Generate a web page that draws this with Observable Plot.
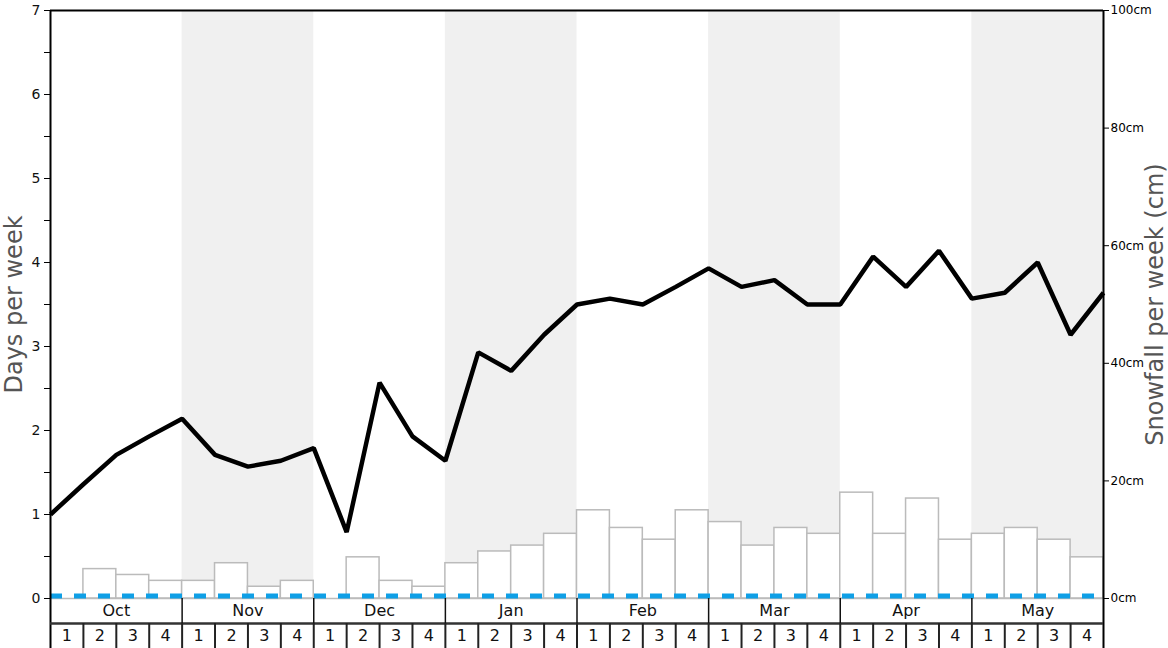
<!DOCTYPE html>
<html>
<head>
<meta charset="utf-8">
<script src="https://cdn.jsdelivr.net/npm/d3@7"></script>
<script src="https://cdn.jsdelivr.net/npm/@observablehq/plot@0.6"></script>
<style>
  html, body { margin: 0; padding: 0; background: #fff; }
  #chart { width: 1168px; height: 648px; }
</style>
</head>
<body>
<div id="chart"></div>
<script>
// ---- Data ----
const months = ["Oct", "Nov", "Dec", "Jan", "Feb", "Mar", "Apr", "May"];
const weekLabels = ["1", "2", "3", "4"];
// Days per week (line), sampled at week boundaries (33 points)
const daysPerWeek = [1.0, 1.36, 1.71, 1.93, 2.14, 1.71, 1.57, 1.64, 1.79, 0.79, 2.57,
  1.93, 1.64, 2.93, 2.71, 3.14, 3.5, 3.57, 3.5, 3.71, 3.93, 3.71, 3.79, 3.5, 3.5,
  4.07, 3.71, 4.14, 3.57, 3.64, 4.0, 3.14, 3.64];
// Snowfall per week in cm (bars), one per week (32)
const snowfallCm = [0, 5, 4, 3, 3, 6, 2, 3, 0, 7, 3, 2, 6, 8, 9, 11,
  15, 12, 10, 15, 13, 9, 12, 11, 18, 11, 17, 10, 11, 12, 10, 7];
const cmTicks = [0, 20, 40, 60, 80, 100];
const dayTicks = [0, 1, 2, 3, 4, 5, 6, 7];
const halfDayTicks = [0.5, 1.5, 2.5, 3.5, 4.5, 5.5, 6.5];

// ---- Derived tables ----
const CM_TO_DAYS = 7 / 100; // right axis 0..100cm maps onto left axis 0..7
const ROW1 = -25 / 84, ROW2 = -50 / 84; // table rows below the plot (in day units)
const weeks = snowfallCm.map((cm, i) => ({i, cm, month: Math.floor(i / 4), label: weekLabels[i % 4]}));
const linePts = daysPerWeek.map((v, i) => ({i, v}));
const monthRows = months.map((m, k) => ({k, m}));
const shaded = monthRows.filter(d => d.k % 2 === 1);
const weekBounds = d3.range(1, weeks.length);
const monthBounds = d3.range(1, months.length).map(k => k * 4);

const chart = Plot.plot({
  width: 1168,
  height: 648,
  marginLeft: 50,
  marginRight: 65,
  marginTop: 10,
  marginBottom: 0,
  style: {fontFamily: "DejaVu Sans, sans-serif", background: "#fff", color: "#000", overflow: "visible"},
  x: {domain: [0, weeks.length], axis: null},
  y: {domain: [ROW2, 7], axis: null},
  marks: [
    // alternating month background bands
    Plot.rect(shaded, {x1: d => d.k * 4, x2: d => d.k * 4 + 4, y1: 0, y2: 7, fill: "#f0f0f0"}),
    // snowfall bars
    Plot.rect(weeks, {x1: d => d.i, x2: d => d.i + 1, y1: 0, y2: d => d.cm * CM_TO_DAYS,
      fill: "#fff", stroke: "#bbb", strokeWidth: 1.5}),
    Plot.ruleY([0], {stroke: "#bbb", strokeWidth: 1.5}),
    // blue dashed baseline
    Plot.ruleY([0], {stroke: "#0f9fe6", strokeWidth: 5, strokeDasharray: "12,12", dy: -2.5}),
    // days-per-week line
    Plot.line(linePts, {x: "i", y: "v", stroke: "#000", strokeWidth: 4.5,
      strokeLinejoin: "miter", strokeLinecap: "butt"}),
    // frame
    Plot.ruleY([7], {stroke: "#000", strokeWidth: 2}),
    Plot.ruleX([0, weeks.length], {stroke: "#000", strokeWidth: 2}),
    // left axis
    Plot.axisY({anchor: "left", ticks: dayTicks, tickSize: 6, tickPadding: 4, fontSize: 14,
      tickFormat: d => d, label: null, stroke: "#000", color: "#111"}),
    Plot.axisY({anchor: "left", ticks: halfDayTicks, tickSize: 6, tickFormat: () => "", label: null}),
    // right axis (cm)
    Plot.axisY({anchor: "right", ticks: cmTicks.map(c => c * CM_TO_DAYS), tickSize: 5, tickPadding: 2,
      fontSize: 12, tickFormat: d => Math.round(d / CM_TO_DAYS) + "cm", label: null}),
    // axis titles
    Plot.text(["Days per week"], {x: 0, y: 3.5, dx: -36, rotate: -90, fontSize: 24, fill: "#555"}),
    Plot.text(["Snowfall per week (cm)"], {x: weeks.length, y: 3.5, dx: 52, rotate: -90, fontSize: 24, fill: "#555"}),
    // table below plot
    Plot.ruleY([ROW1], {stroke: "#333", strokeWidth: 2.5}),
    Plot.ruleX(monthBounds, {y1: 0, y2: ROW1, stroke: "#111", strokeWidth: 1.5}),
    Plot.ruleX(weekBounds, {y1: ROW1, y2: ROW2, stroke: "#222", strokeWidth: 2}),
    Plot.text(monthRows, {x: d => d.k * 4 + 2, y: ROW1 / 2, text: "m", fontSize: 16, fill: "#111"}),
    Plot.text(weeks, {x: d => d.i + 0.5, y: (ROW1 + ROW2) / 2, text: "label", fontSize: 16, fill: "#111"})
  ]
});
document.getElementById("chart").append(chart);
</script>
</body>
</html>
